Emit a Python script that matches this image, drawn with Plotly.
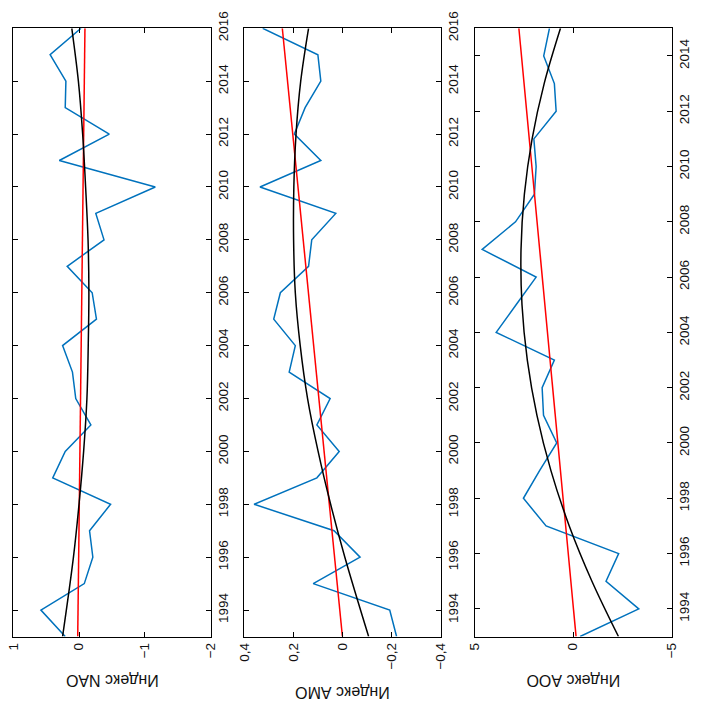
import plotly.graph_objects as go

# ---------------- data ----------------
years_a = list(range(1993, 2017))   # NAO, AMO: 1993..2016
years_c = list(range(1993, 2016))   # AOO: 1993..2015

nao = [0.21, 0.58, -0.08, -0.21, -0.16, -0.48, 0.40, 0.21, -0.18, 0.05, 0.10, 0.25,
       -0.265, -0.20, 0.18, -0.38, -0.255, -1.16, 0.30, -0.46, 0.21, 0.20, 0.44, -0.03]
amo = [-0.221, -0.193, 0.119, -0.072, 0.034, 0.36, 0.104, 0.013, 0.104, 0.05, 0.217, 0.192,
       0.28, 0.253, 0.138, 0.125, 0.027, 0.336, 0.088, 0.196, 0.152, 0.088, 0.10, 0.325]
aoo = [-0.355, -3.33, -1.67, -2.31, 1.37, 2.52, 1.70, 0.83, 1.50, 1.57, 0.95, 3.90,
       2.89, 1.875, 4.61, 2.92, 1.96, 1.875, 1.99, 0.86, 0.95, 1.49, 1.20]

# linear trends (end points)
nao_lin_years = [1993, 2016]
nao_lin = [0.02, -0.09]
amo_lin_years = [1993, 2016]
amo_lin = [0.0, 0.245]
aoo_lin_years = [1993, 2015]
aoo_lin = [-0.15, 2.75]

# parabolic trends
nao_poly_years = [1993, 1996, 1998, 2000, 2002, 2004, 2006, 2008, 2010, 2012, 2014, 2016]
nao_poly = [0.25, 0.085, 0.0, -0.07, -0.12, -0.14, -0.15, -0.137, -0.10, -0.055, 0.01, 0.11]
amo_poly_years = [1993, 1996, 1998, 2000, 2002, 2004, 2006, 2008, 2010, 2012, 2014, 2016]
amo_poly = [-0.107, -0.01, 0.048, 0.099, 0.142, 0.172, 0.192, 0.199, 0.198, 0.189, 0.17, 0.138]
aoo_poly_years = [1993, 1995, 1997, 1999, 2001, 2003, 2005, 2007, 2009, 2011, 2013, 2015]
aoo_poly = [-2.30, -0.955, 0.195, 1.124, 1.833, 2.322, 2.592, 2.641, 2.470, 2.079, 1.467, 0.64]

# tick labels
year_ticks_ab = list(range(1994, 2017, 2))
year_ticks_c = list(range(1994, 2015, 2))
nao_tickvals = [1, 0, -1, -2]
nao_ticktext = ["1", "0", "\u22121", "\u22122"]
amo_tickvals = [0.4, 0.2, 0, -0.2, -0.4]
amo_ticktext = ["0,4", "0,2", "0", "\u22120,2", "\u22120,4"]
aoo_tickvals = [5, 0, -5]
aoo_ticktext = ["5", "0", "\u22125"]
titles = ["Индекс NAO", "Индекс AMO", "Индекс AOO"]

# ---------------- figure ----------------
W, H = 701, 706
BLUE = "#0072BD"
RED = "#FF0000"
BLACK = "#000000"
FONT = "Liberation Sans, Arial, sans-serif"

fig = go.Figure()

panels = [
    (years_a, nao, nao_lin_years, nao_lin, nao_poly_years, nao_poly, "x", "y"),
    (years_a, amo, amo_lin_years, amo_lin, amo_poly_years, amo_poly, "x2", "y2"),
    (years_c, aoo, aoo_lin_years, aoo_lin, aoo_poly_years, aoo_poly, "x3", "y3"),
]
for yrs, vals, ly, lv, py, pv, xa, ya in panels:
    fig.add_trace(go.Scatter(x=vals, y=yrs, mode="lines", xaxis=xa, yaxis=ya,
                             line=dict(color=BLUE, width=1.5), showlegend=False))
    fig.add_trace(go.Scatter(x=lv, y=ly, mode="lines", xaxis=xa, yaxis=ya,
                             line=dict(color=RED, width=1.5), showlegend=False))
    fig.add_trace(go.Scatter(x=pv, y=py, mode="lines", xaxis=xa, yaxis=ya,
                             line=dict(color=BLACK, width=1.5, shape="spline", smoothing=1.0),
                             showlegend=False))

# pixel layout of panels
px_x = [(13.3, 210.5), (244.3, 440.5), (474.5, 671.7)]
top_px, bot_px = 28.3, 636.5
ydom = [1 - bot_px / H, 1 - top_px / H]

common_axis = dict(showline=True, linecolor="black", linewidth=1, mirror="ticks",
                   ticks="inside", ticklen=5, tickwidth=1, tickcolor="black",
                   showgrid=False, zeroline=False, tickangle=-90, automargin=False,
                   tickfont=dict(family=FONT, size=13.5, color="#111111"))

xinfo = [([1, -2], nao_tickvals, nao_ticktext),
         ([0.4, -0.4], amo_tickvals, amo_ticktext),
         ([5, -5], aoo_tickvals, aoo_ticktext)]
yinfo = [([1993, 2016], year_ticks_ab),
         ([1993, 2016], year_ticks_ab),
         ([1993, 2015], year_ticks_c)]

layout = dict(width=W, height=H, margin=dict(l=0, r=0, t=0, b=0, pad=0),
              template="none", hovermode=False,
              paper_bgcolor="white", plot_bgcolor="white", showlegend=False)
for i in range(3):
    sfx = "" if i == 0 else str(i + 1)
    xr, tv, tt = xinfo[i]
    yr, yt = yinfo[i]
    layout["xaxis" + sfx] = dict(common_axis, domain=[px_x[i][0] / W, px_x[i][1] / W],
                                 range=xr, tickvals=tv, ticktext=tt,
                                 anchor="y" + sfx, side="bottom")
    layout["yaxis" + sfx] = dict(common_axis, domain=ydom, range=yr,
                                 tickvals=yt, ticktext=[str(v) for v in yt],
                                 anchor="x" + sfx, side="right")

title_y_px = [681, 693, 681]
annotations = []
for i in range(3):
    cx = (px_x[i][0] + px_x[i][1]) / 2 / W
    annotations.append(dict(text=titles[i], xref="paper", yref="paper",
                            x=cx, y=1 - title_y_px[i] / H, xanchor="center", yanchor="middle",
                            showarrow=False, textangle=180,
                            font=dict(family=FONT, size=16, color="#111111")))
layout["annotations"] = annotations

fig.update_layout(**layout)
fig.write_html("out.html", config={"displayModeBar": False, "staticPlot": True},
               post_script="document.body.style.margin='0';document.body.style.overflow='hidden';")
